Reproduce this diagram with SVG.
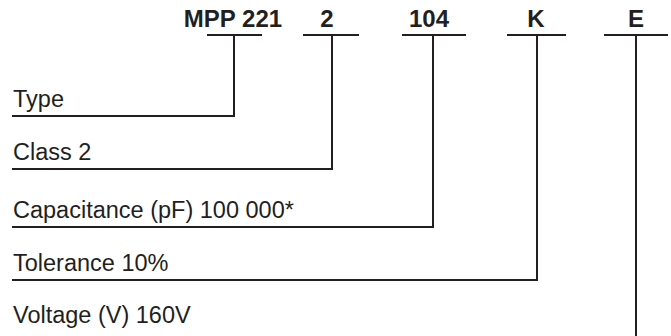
<svg xmlns="http://www.w3.org/2000/svg" width="671" height="336" viewBox="0 0 671 336">
<style>
.hd{font-family:"Liberation Sans",Arial,sans-serif;font-weight:bold;font-size:24px;fill:#231f20;text-anchor:middle}
.lb{font-family:"Liberation Sans",Arial,sans-serif;font-size:23.5px;fill:#231f20}
.ln{stroke:#231f20;stroke-width:2;fill:none}
</style>
<rect width="671" height="336" fill="#fff"/>
<g id="code-mpp"><text class="hd" x="233" y="27">MPP 221</text><line class="ln" x1="207" y1="35" x2="262" y2="35"/></g>
<g id="code-2"><text class="hd" x="327" y="27">2</text><line class="ln" x1="303" y1="35" x2="359" y2="35"/></g>
<g id="code-104"><text class="hd" x="429" y="27">104</text><line class="ln" x1="402" y1="35" x2="466" y2="35"/></g>
<g id="code-k"><text class="hd" x="536" y="27">K</text><line class="ln" x1="507" y1="35" x2="566" y2="35"/></g>
<g id="code-e"><text class="hd" x="636" y="27">E</text><line class="ln" x1="604" y1="35" x2="668" y2="35"/></g>
<g id="label-type"><text class="lb" x="13" y="107">Type</text></g>
<g id="label-class"><text class="lb" x="13" y="160">Class 2</text></g>
<g id="label-cap"><text class="lb" x="13" y="218">Capacitance (pF) 100 000*</text></g>
<g id="label-tol"><text class="lb" x="13" y="271">Tolerance 10%</text></g>
<g id="label-volt"><text class="lb" x="13" y="323">Voltage (V) 160V</text></g>
<g id="connectors">
<polyline class="ln" points="234,35 234,116 12,116"/>
<polyline class="ln" points="332,35 332,169 12,169"/>
<polyline class="ln" points="433,35 433,227 12,227"/>
<polyline class="ln" points="537,35 537,280 12,280"/>
<polyline class="ln" points="636,35 636,336"/>
</g>
</svg>
